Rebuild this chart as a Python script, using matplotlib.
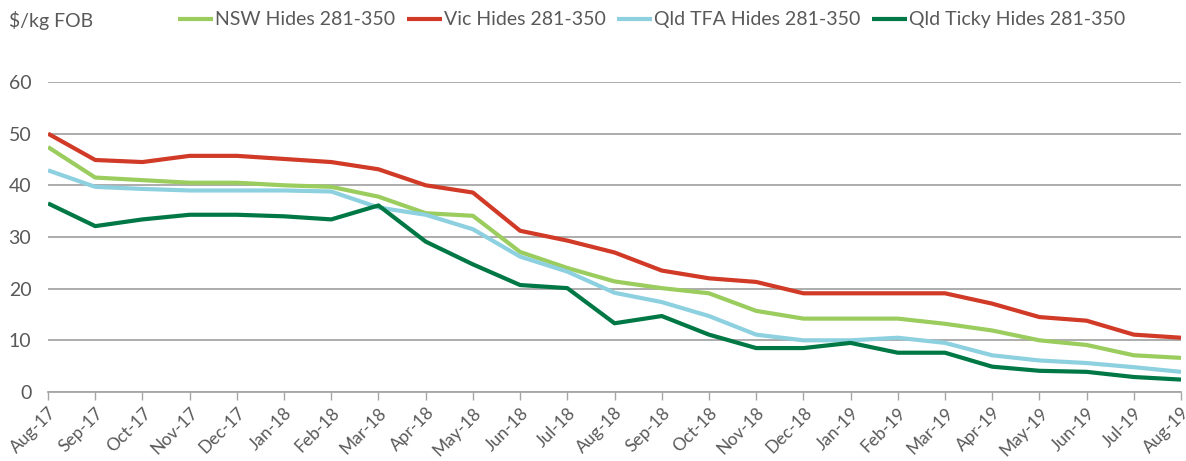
import matplotlib.pyplot as plt

months = ["Aug-17", "Sep-17", "Oct-17", "Nov-17", "Dec-17", "Jan-18", "Feb-18",
          "Mar-18", "Apr-18", "May-18", "Jun-18", "Jul-18", "Aug-18", "Sep-18",
          "Oct-18", "Nov-18", "Dec-18", "Jan-19", "Feb-19", "Mar-19", "Apr-19",
          "May-19", "Jun-19", "Jul-19", "Aug-19"]

nsw = [47.4, 41.5, 41.0, 40.5, 40.5, 40.0, 39.7, 37.8, 34.6, 34.1, 27.1, 24.0,
       21.4, 20.1, 19.1, 15.7, 14.2, 14.2, 14.2, 13.2, 11.9, 10.0, 9.1, 7.1, 6.6]
vic = [50.0, 44.9, 44.5, 45.7, 45.7, 45.1, 44.5, 43.1, 40.0, 38.6, 31.2, 29.3,
       27.0, 23.5, 22.0, 21.3, 19.1, 19.1, 19.1, 19.1, 17.1, 14.5, 13.8, 11.1, 10.5]
qld_tfa = [42.9, 39.7, 39.3, 39.0, 39.0, 39.0, 38.8, 35.7, 34.3, 31.5, 26.2, 23.3,
           19.2, 17.4, 14.7, 11.1, 10.0, 10.0, 10.5, 9.5, 7.1, 6.1, 5.6, 4.8, 3.9]
qld_ticky = [36.5, 32.1, 33.4, 34.3, 34.3, 34.0, 33.4, 36.1, 29.1, 24.7, 20.7, 20.1,
             13.3, 14.7, 11.1, 8.5, 8.5, 9.5, 7.6, 7.6, 4.9, 4.1, 3.9, 2.9, 2.4]

series = [
    ("NSW Hides 281-350", nsw, "#9BCC5E"),
    ("Vic Hides 281-350", vic, "#D03A27"),
    ("Qld TFA Hides 281-350", qld_tfa, "#8DD0E0"),
    ("Qld Ticky Hides 281-350", qld_ticky, "#007846"),
]

plt.rcParams["font.family"] = ["Lato", "DejaVu Sans"]
text_color = "#595959"

fig = plt.figure(figsize=(11.86, 4.61), dpi=100)
ax = fig.add_axes([0.0405, 0.1497, 0.9553, 0.6725])

x = list(range(len(months)))
for label, values, color in series:
    ax.plot(x, values, color=color, linewidth=3, label=label, solid_capstyle="butt")

ax.set_xlim(0, len(months) - 1)
ax.set_ylim(0, 60)
ax.set_yticks(range(0, 61, 10))
ax.set_xticks(x)
ax.set_xticklabels(months, rotation=45, ha="right", rotation_mode="anchor",
                   fontsize=12.5, color=text_color)
ax.tick_params(axis="x", length=6, width=1, color="#A6A6A6", pad=3)
ax.tick_params(axis="y", length=0, labelsize=14, labelcolor=text_color, pad=12)

ax.grid(axis="y", color="#A6A6A6", linewidth=1.3)
ax.set_axisbelow(True)
for side in ["top", "right", "left"]:
    ax.spines[side].set_visible(False)
ax.spines["bottom"].set_color("#A6A6A6")
ax.spines["bottom"].set_linewidth(1.3)

fig.text(0.008, 0.955, "$/kg FOB", fontsize=14, color=text_color, va="center")

fig.legend(loc="center left", bbox_to_anchor=(0.15, 0.957), ncol=4, frameon=False,
           fontsize=14, handlelength=1.8, handletextpad=0.1, columnspacing=0.6,
           labelcolor=text_color, borderaxespad=0, borderpad=0)

fig.savefig("out.png", dpi=100)
